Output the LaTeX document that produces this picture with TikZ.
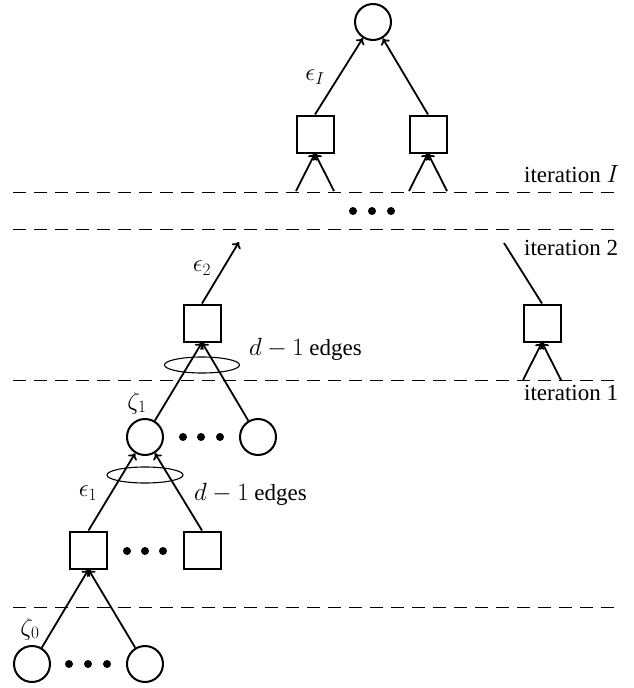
\documentclass[tikz,border=0pt]{standalone}
\usepackage{fontspec}
\setmainfont{Liberation Serif}
\usetikzlibrary{arrows.meta}
\begin{document}
\begin{tikzpicture}[x=1pt,y=-1pt,
  every node/.style={font=\fontsize{23}{27}\selectfont},
  vnode/.style={circle,draw,line width=2pt,minimum size=36pt,inner sep=0pt},
  cnode/.style={rectangle,draw,line width=2pt,minimum size=37pt,inner sep=0pt},
  edge/.style={line width=1.8pt},
  arr/.style={edge,-{To[length=6pt,width=10pt]}},
  sep/.style={line width=1pt,dash pattern=on 13pt off 8pt},
  grp/.style={line width=1.1pt},
  lbl/.style={inner sep=0pt},
  dot/.style={fill,circle,inner sep=0pt,minimum size=8pt}]
\useasboundingbox (0,0) rectangle (634,688);
% separators
\draw[sep] (13,192) -- (620,192);
\draw[sep] (13,229) -- (620,229);
\draw[sep] (13,380) -- (620,380);
\draw[sep] (13,607) -- (620,607);
% iteration labels
\node[lbl,anchor=base west] (itI) at (524,182) {iteration $I$};
\node[lbl,anchor=base west] (it2) at (524,255) {iteration 2};
\node[lbl,anchor=base west] (it1) at (524,400) {iteration 1};
% top
\node[vnode] (top) at (373,22) {};
\node[cnode] (tl) at (315,134) {};
\node[cnode] (tr) at (428,134) {};
\draw[arr] (tl.north) -- (top);
\draw[arr] (tr.north) -- (top);
\coordinate (tla) at (296,191);
\coordinate (tlb) at (334,191);
\coordinate (tra) at (409,191);
\coordinate (trb) at (447,191);
\draw[arr] (tla) -- (tl.south);
\draw[arr] (tlb) -- (tl.south);
\draw[arr] (tra) -- (tr.south);
\draw[arr] (trb) -- (tr.south);
\node[lbl] (eI) at (315,77) {$\epsilon_I$};
\foreach \x [count=\i] in {353,372,391} \node[dot] (td\i) at (\x,211) {};
% iteration 2
\node[cnode] (s2) at (202,323) {};
\coordinate (s2out) at (239,242);
\draw[arr] (s2.north) -- (s2out);
\node[lbl] (e2) at (202,268) {$\epsilon_2$};
\node[cnode] (sr) at (542,323) {};
\coordinate (srout) at (504,243);
\draw[edge] (sr.north) -- (srout);
\coordinate (sra) at (523,380);
\coordinate (srb) at (561,380);
\draw[arr] (sra) -- (sr.south);
\draw[arr] (srb) -- (sr.south);
\draw[grp] (202,365) ellipse [x radius=37.5pt,y radius=8pt];
\node[lbl,anchor=base west] (dm2) at (249,355) {$d-1$ edges};
% iteration 1
\node[vnode] (c1) at (145,437) {};
\node[vnode] (c1r) at (258,437) {};
\foreach \x [count=\i] in {183,201,220} \node[dot] (md\i) at (\x,437) {};
\draw[arr] (c1) -- (s2.south);
\draw[arr] (c1r) -- (s2.south);
\node[lbl] (z1) at (137,403) {$\zeta_1$};
\node[cnode] (sa) at (88.5,550) {};
\node[cnode] (sb) at (202,550) {};
\foreach \x [count=\i] in {127,145,163} \node[dot] (sd\i) at (\x,551) {};
\draw[arr] (sa.north) -- (c1);
\draw[arr] (sb.north) -- (c1);
\draw[grp] (145,475) ellipse [x radius=38pt,y radius=8pt];
\node[lbl,anchor=base west] (dm1) at (194,500) {$d-1$ edges};
\node[lbl] (e1) at (88,493) {$\epsilon_1$};
% bottom
\node[vnode] (b1) at (32,664) {};
\node[vnode] (b2) at (145,664) {};
\foreach \x [count=\i] in {69,88,107} \node[dot] (bd\i) at (\x,664) {};
\draw[arr] (b1) -- (sa.south);
\draw[arr] (b2) -- (sa.south);
\node[lbl] (z0) at (30,629) {$\zeta_0$};
\end{tikzpicture}
\end{document}
